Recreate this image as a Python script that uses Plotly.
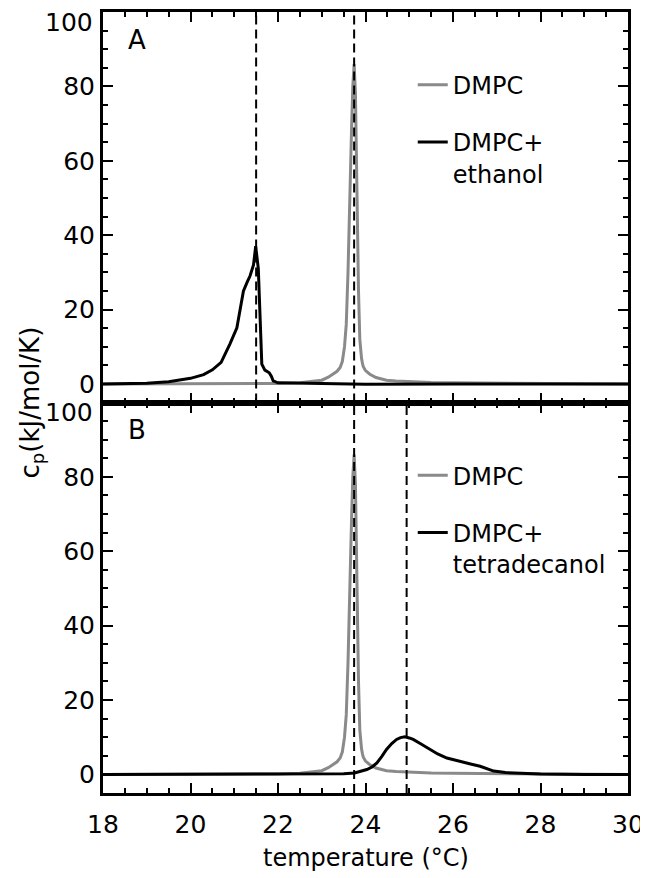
import plotly.graph_objects as go

# DMPC (pure lipid), same scan shown in both panels
t_dmpc = [18.0, 20.0, 22.0, 22.5, 22.8, 23.0, 23.15, 23.26, 23.35, 23.42, 23.47, 23.52, 23.56,
          23.6, 23.634, 23.68, 23.71, 23.74, 23.77, 23.806, 23.84, 23.87, 23.89, 23.91, 23.93,
          23.95, 24.0, 24.1, 24.24, 24.48, 24.7, 25.0, 25.5, 26.0, 27.0, 28.0, 30.0]
cp_dmpc = [0.0, 0.0, 0.1, 0.3, 0.6, 1.0, 1.8, 2.6, 3.4, 4.4, 6.0, 10.0, 16.0,
           30.0, 49.0, 68.0, 80.0, 86.0, 78.0, 49.0, 25.0, 12.0, 8.5, 6.8, 5.6,
           4.6, 3.6, 2.6, 1.7, 1.0, 0.8, 0.6, 0.4, 0.3, 0.2, 0.1, 0.0]

# DMPC + ethanol (panel A)
t_eth = [18.0, 19.0, 19.5, 20.0, 20.3, 20.5, 20.7, 20.9, 21.06, 21.21, 21.3, 21.36, 21.44,
         21.49, 21.55, 21.59, 21.63, 21.7, 21.8, 21.85, 21.89, 22.0, 23.0, 24.0, 26.0, 30.0]
cp_eth = [0.0, 0.2, 0.6, 1.5, 2.5, 3.8, 5.8, 10.7, 15.1, 25.0, 27.5, 29.0, 32.0,
          37.0, 31.0, 18.0, 5.3, 3.7, 3.0, 2.0, 0.8, 0.3, 0.1, -0.1, 0.0, 0.0]

# DMPC + tetradecanol (panel B)
t_tet = [18.0, 20.0, 22.0, 23.0, 23.5, 23.75, 23.9, 24.03, 24.15, 24.26, 24.37, 24.48, 24.6,
         24.71, 24.8, 24.9, 25.0, 25.09, 25.25, 25.47, 25.65, 25.86, 26.1, 26.4, 26.62, 26.75,
         26.93, 27.2, 27.6, 28.0, 29.0, 30.0]
cp_tet = [0.0, 0.0, 0.0, 0.1, 0.2, 0.4, 0.8, 1.3, 2.0, 3.1, 4.8, 6.7, 8.3,
          9.4, 9.9, 10.1, 9.8, 9.4, 8.3, 6.7, 5.5, 4.4, 3.6, 2.8, 2.2, 1.6,
          0.9, 0.5, 0.3, 0.1, 0.0, 0.0]

# transition temperatures marked with dashed lines
tm_a = [21.5, 23.74]
tm_b = [23.74, 24.94]

y_ticks = [0, 20, 40, 60, 80]
y_top = 100

GRAY = "#8a8a8a"
FONT = "DejaVu Sans"

fig = go.Figure()
fig.add_trace(go.Scatter(x=t_dmpc, y=cp_dmpc, mode="lines", line=dict(color=GRAY, width=3),
                         name="DMPC", xaxis="x", yaxis="y", legend="legend", legendgroup="a1"))
fig.add_trace(go.Scatter(x=t_eth, y=cp_eth, mode="lines", line=dict(color="black", width=3),
                         name="DMPC+<br>ethanol", xaxis="x", yaxis="y", legend="legend",
                         legendgroup="a2"))
fig.add_trace(go.Scatter(x=t_dmpc, y=cp_dmpc, mode="lines", line=dict(color=GRAY, width=3),
                         name="DMPC", xaxis="x2", yaxis="y2", legend="legend2", legendgroup="b1"))
fig.add_trace(go.Scatter(x=t_tet, y=cp_tet, mode="lines", line=dict(color="black", width=3),
                         name="DMPC+<br>tetradecanol", xaxis="x2", yaxis="y2", legend="legend2",
                         legendgroup="b2"))

for t in tm_a:
    fig.add_shape(type="line", xref="x", yref="y domain", x0=t, x1=t, y0=0, y1=1,
                  line=dict(color="black", width=2, dash="9px,5px"))
for t in tm_b:
    fig.add_shape(type="line", xref="x2", yref="y2 domain", x0=t, x1=t, y0=0, y1=1,
                  line=dict(color="black", width=2, dash="9px,5px"))

axis_common = dict(
    showline=True, linewidth=3, linecolor="black", mirror="allticks",
    ticks="inside", ticklen=10, tickwidth=2, tickcolor="black",
    showgrid=False, zeroline=False, automargin=False,
    tickfont=dict(family=FONT, size=25, color="black"),
)
x_common = dict(axis_common, range=[18, 30], dtick=2, tick0=18,
                minor=dict(ticks="inside", ticklen=5, tickwidth=2, dtick=0.5, tickcolor="black"))
y_common = dict(axis_common, range=[-5, 100], tickvals=y_ticks,
                minor=dict(ticks="inside", ticklen=5, tickwidth=2, dtick=5, tickcolor="black"))

legend_common = dict(
    font=dict(family=FONT, size=24, color="black"),
    bgcolor="rgba(0,0,0,0)", borderwidth=0, xanchor="left", yanchor="top",
    traceorder="grouped", tracegroupgap=23, valign="top",
)

# top label of each panel sits just inside the frame, as in the original
top_labels = [
    dict(text=str(y_top), xref="paper", yref=yr, x=0, y=y_top, xanchor="right",
         yanchor="middle", xshift=-8, yshift=-10, showarrow=False,
         font=dict(family=FONT, size=25))
    for yr in ("y", "y2")
]


def label(text, x, y, size, **kw):
    return dict(text=text, xref="paper", yref="paper", x=x, y=y, xanchor="center",
                yanchor="middle", showarrow=False, font=dict(family=FONT, size=size), **kw)


# the page body adds an 8px offset, so the figure is shifted to line up with the window
fig.update_layout(
    width=640, height=870,
    margin=dict(l=95, r=20, t=4, b=85, autoexpand=False),
    paper_bgcolor="white", plot_bgcolor="white",
    font=dict(family=FONT, color="black"),
    xaxis=dict(x_common, anchor="y", showticklabels=False, matches="x2"),
    xaxis2=dict(x_common, anchor="y2", ticklabelstandoff=7),
    yaxis=dict(y_common, domain=[0.5, 1], anchor="x"),
    yaxis2=dict(y_common, domain=[0, 0.5], anchor="x2"),
    legend=dict(legend_common, x=0.59, y=0.935),
    legend2=dict(legend_common, x=0.59, y=0.435),
    annotations=top_labels + [
        label("A", 0.065, 0.964, 26),
        label("B", 0.065, 0.465, 26),
        label("c<sub>p</sub>(kJ/mol/K)", -0.137, 0.5, 26, textangle=-90),
        label("temperature (°C)", 0.5, -0.0832, 24),
    ],
)

fig.write_html("out.html")
